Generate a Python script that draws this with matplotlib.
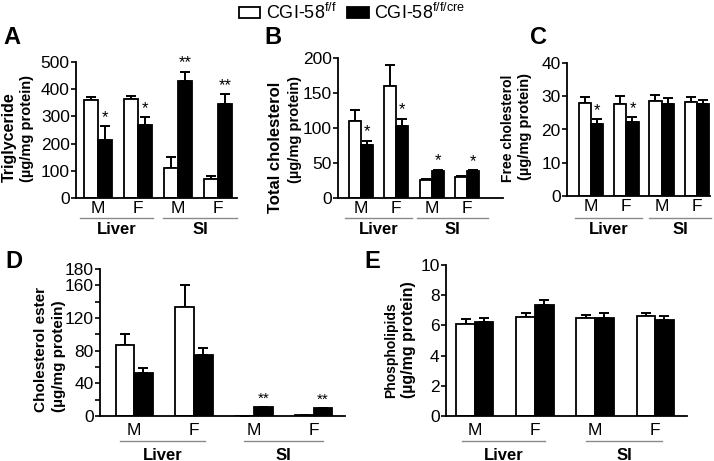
import matplotlib.pyplot as plt
import matplotlib.transforms as mtransforms
from matplotlib.patches import Patch

plt.rcParams['font.family'] = ['Liberation Sans', 'DejaVu Sans']
plt.rcParams['mathtext.fontset'] = 'custom'
plt.rcParams['mathtext.rm'] = 'Liberation Sans'

# =========================
# data
# =========================
sex_labels = ["M", "F", "M", "F"]
tissue_labels = ["Liver", "SI"]
unit_label = "(µg/mg protein)"

tg_ff = [359, 365, 109, 69]
tg_ff_err = [14, 10, 43, 12]
tg_cre = [214, 270, 430, 344]
tg_cre_err = [49, 27, 34, 37]
tg_stars = ["*", "*", "**", "**"]

tc_ff = [110, 160, 25, 30]
tc_ff_err = [16, 30, 2, 1.5]
tc_cre = [75, 103, 39, 38]
tc_cre_err = [7, 10, 1.5, 1.5]
tc_stars = ["*", "*", "*", "*"]

fc_ff = [27.9, 27.7, 28.7, 28.2]
fc_ff_err = [1.8, 2.5, 1.7, 1.7]
fc_cre = [21.7, 22.4, 27.7, 27.7]
fc_cre_err = [1.4, 1.3, 1.9, 1.2]
fc_stars = ["*", "*", "", ""]

ce_ff = [87, 133, 0.5, 1.5]
ce_ff_err = [13, 27, 0, 0]
ce_cre = [53, 75, 10.6, 9.4]
ce_cre_err = [6, 8, 0.8, 0.8]
ce_stars = ["", "", "**", "**"]

pl_ff = [6.1, 6.57, 6.46, 6.64]
pl_ff_err = [0.3, 0.22, 0.22, 0.15]
pl_cre = [6.2, 7.35, 6.46, 6.35]
pl_cre_err = [0.26, 0.33, 0.34, 0.3]
pl_stars = ["", "", "", ""]

W, H = 714, 461
fig = plt.figure(figsize=(W / 100, H / 100), dpi=100)


def add_ax(left, top, right, bottom):
    return fig.add_axes([left / W, 1 - bottom / H, (right - left) / W, (bottom - top) / H])


def ylab(text, x, bottom, size):
    # y labels of the original use different sizes per line, so place them by hand
    fig.text(x / W, 1 - bottom / H, text, rotation=90, ha="center", va="bottom",
             fontsize=size, fontweight="bold")


def draw_panel(ax, ff, ff_err, cre, cre_err, stars, ylim, yticks, yticklabels,
               xlim, width, liver_span, si_span, star_size, star_pad,
               offs, letter, letter_xy):
    x = list(range(len(ff)))
    xw = [i - width / 2 for i in x]
    xb = [i + width / 2 for i in x]
    ax.bar(xw, ff, width, color="white", edgecolor="black", linewidth=1.3, zorder=2)
    ax.bar(xb, cre, width, color="black", edgecolor="black", linewidth=1.3, zorder=2)
    ax.errorbar(xw, ff, yerr=[[0] * len(ff), ff_err], fmt="none", ecolor="black",
                elinewidth=1.4, capsize=3.5, capthick=1.4, zorder=1)
    ax.errorbar(xb, cre, yerr=[[0] * len(cre), cre_err], fmt="none", ecolor="black",
                elinewidth=1.4, capsize=3.5, capthick=1.4, zorder=1)
    for i in range(len(stars)):
        if stars[i]:
            ax.text(xb[i], cre[i] + cre_err[i] + star_pad, stars[i], ha="center",
                    va="bottom", fontsize=star_size)

    ax.set_xlim(xlim)
    ax.set_ylim(ylim)
    ax.set_yticks(yticks)
    ax.set_yticklabels(yticklabels)
    ax.set_xticks(x)
    ax.set_xticklabels(sex_labels)
    ax.tick_params(axis="x", length=0, pad=offs[0], labelsize=12.5)
    ax.tick_params(axis="y", length=3.5, width=1.2, pad=1, labelsize=12.5)
    for s in ["top", "right"]:
        ax.spines[s].set_visible(False)
    for s in ["left", "bottom"]:
        ax.spines[s].set_linewidth(1.3)

    h_px = ax.get_position().height * H
    tr = mtransforms.blended_transform_factory(ax.transData, ax.transAxes)
    for span, name in zip([liver_span, si_span], tissue_labels):
        ax.plot(span, [-offs[1] / h_px] * 2, color="#8a8a8a", lw=1.0,
                transform=tr, clip_on=False)
        ax.text(sum(span) / 2, -offs[2] / h_px, name, transform=tr, ha="center",
                va="center", fontsize=12, fontweight="bold")
    fig.text(letter_xy[0] / W, 1 - letter_xy[1] / H, letter, fontsize=17,
             fontweight="bold", ha="left", va="center")


# A. triglyceride
axA = add_ax(76, 62, 237, 198)
draw_panel(axA, tg_ff, tg_ff_err, tg_cre, tg_cre_err, tg_stars, (0, 500),
           range(0, 501, 100), [str(v) for v in range(0, 501, 100)],
           (-0.55, 3.475), 0.35, (-0.45, 1.38), (1.63, 3.48), 12, 5,
           (2, 20, 31), "A", (3, 38))
ylab("Triglyceride", 9, 182, 11.5)
ylab(unit_label, 27, 182, 10.5)

# B. total cholesterol
axB = add_ax(338, 58, 503, 198)
draw_panel(axB, tc_ff, tc_ff_err, tc_cre, tc_cre_err, tc_stars, (0, 200),
           range(0, 201, 50), [str(v) for v in range(0, 201, 50)],
           (-0.65, 4.02), 0.34, (-0.45, 1.45), (1.6, 3.6), 12, 2,
           (2, 20, 31), "B", (264, 38))
ylab("Total cholesterol", 275, 213, 12)
ylab(unit_label, 295, 183, 10.5)

# C. free cholesterol
axC = add_ax(567, 63, 710, 196)
draw_panel(axC, fc_ff, fc_ff_err, fc_cre, fc_cre_err, fc_stars, (0, 40),
           range(0, 41, 10), [str(v) for v in range(0, 41, 10)],
           (-0.68, 3.37), 0.35, (-0.45, 1.45), (1.65, 3.4), 12, 0.3,
           (2, 22, 33), "C", (530, 38))
ylab("Free cholesterol", 508, 182, 10)
ylab(unit_label, 525, 180, 10.5)

# D. cholesterol ester
ce_ticks = list(range(0, 181, 20))
ce_ticklabels = [str(v) if v in (0, 40, 80, 120, 160, 180) else "" for v in ce_ticks]
axD = add_ax(100, 269, 345, 416)
draw_panel(axD, ce_ff, ce_ff_err, ce_cre, ce_cre_err, ce_stars, (0, 180),
           ce_ticks, ce_ticklabels, (-0.57, 3.52), 0.31,
           (-0.23, 1.18), (1.83, 3.15), 11, 1, (5, 25, 39), "D", (5, 261))
ylab("Cholesterol ester", 41, 412, 11)
ylab(unit_label, 59, 412, 11)

# E. phospholipids
axE = add_ax(446, 265, 687, 416)
draw_panel(axE, pl_ff, pl_ff_err, pl_cre, pl_cre_err, pl_stars, (0, 10),
           range(0, 11, 2), [str(v) for v in range(0, 11, 2)],
           (-0.48, 3.53), 0.31, (-0.22, 1.17), (1.85, 3.12), 11, 0.1,
           (5, 25, 39), "E", (364, 261))
ylab("Phospholipids", 391, 398, 10)
ylab(unit_label, 409, 398, 11.5)

handles = [Patch(facecolor="white", edgecolor="black", linewidth=1.3),
           Patch(facecolor="black", edgecolor="black", linewidth=1.3)]
fig.legend(handles, ["CGI-58$^{\\mathrm{f/f}}$", "CGI-58$^{\\mathrm{f/f/cre}}$"],
           loc="center", bbox_to_anchor=(352 / W, 1 - 13 / H), ncol=2, frameon=False,
           fontsize=13, handlelength=1.2, handleheight=0.55, handletextpad=0.3,
           columnspacing=0.6, borderpad=0)

fig.savefig("out.png", dpi=100)
